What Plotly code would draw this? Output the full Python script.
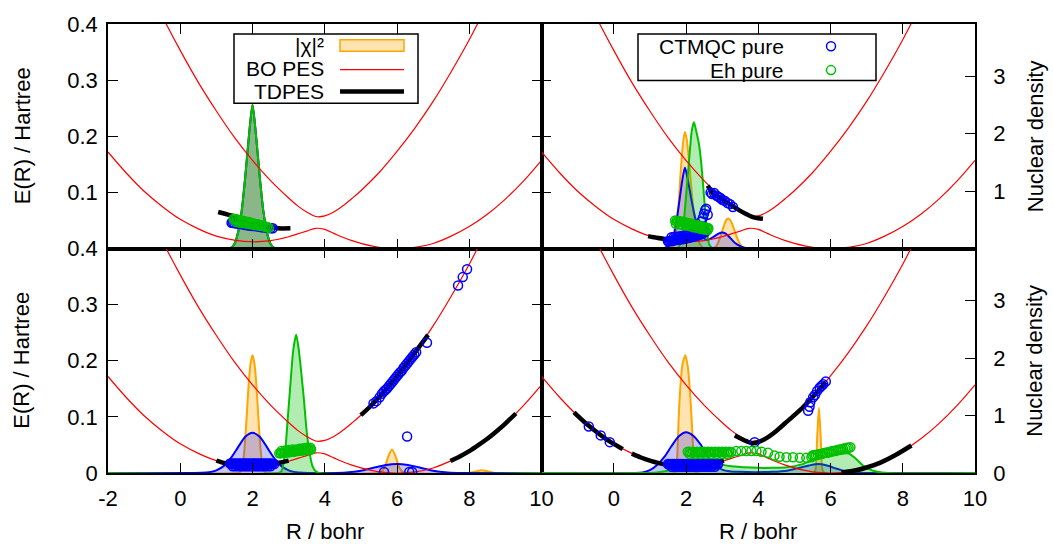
import plotly.graph_objects as go

# ---------------- data ----------------
# Born-Oppenheimer potential energy surfaces (Hartree) vs R (bohr)
R_pes = [-2, -1.5, -1, -0.5, 0, 0.5, 1, 1.5, 2, 2.5, 3, 3.25, 3.5, 3.75, 4, 4.25,
         4.5, 4.75, 5, 5.5, 6, 6.5, 7, 7.5, 8, 8.5, 9, 9.5, 10]
E_bo_lower = [0.172, 0.135, 0.102, 0.075, 0.052, 0.035, 0.022, 0.015, 0.012, 0.014,
              0.021, 0.026, 0.031, 0.036, 0.034, 0.027, 0.020, 0.014, 0.009, 0.002,
              0.0, 0.002, 0.009, 0.022, 0.039, 0.061, 0.088, 0.120, 0.157]
E_bo_upper = [0.627, 0.551, 0.480, 0.414, 0.353, 0.296, 0.245, 0.198, 0.157, 0.121,
              0.090, 0.076, 0.065, 0.057, 0.058, 0.065, 0.076, 0.089, 0.103, 0.135,
              0.173, 0.215, 0.262, 0.315, 0.372, 0.435, 0.502, 0.575, 0.652]

# ---- panel top-left ----
chi_TL_R = [-2, 1.3, 1.4, 1.5, 1.6, 1.7, 1.8, 1.9, 2.0, 2.1, 2.2, 2.3, 2.4, 2.5, 2.6, 2.7, 10]
chi_TL = [0, 0, 0.01, 0.08, 0.28, 0.65, 1.25, 1.95, 2.52, 1.95, 1.25, 0.65, 0.28, 0.08, 0.01, 0, 0]
ct_TL_R = chi_TL_R
ct_TL = [0, 0, 0.01, 0.08, 0.28, 0.65, 1.25, 1.95, 2.5, 1.95, 1.25, 0.65, 0.28, 0.08, 0.01, 0, 0]
eh_TL_R = chi_TL_R
eh_TL = [0, 0, 0.01, 0.08, 0.28, 0.65, 1.25, 1.95, 2.5, 1.95, 1.25, 0.65, 0.28, 0.08, 0.01, 0, 0]
td_TL_R = [1.05, 1.5, 2.0, 2.5, 2.7, 3.05]
td_TL_E = [0.065, 0.057, 0.047, 0.039, 0.036, 0.036]
ctp_TL_R = [1.42, 1.46, 1.5, 1.55, 1.6, 1.65, 1.7, 1.75, 1.8, 1.85, 1.9, 1.95, 2.0, 2.05,
            2.1, 2.15, 2.2, 2.25, 2.3, 2.35, 2.4, 2.45, 2.5, 2.56]
ctp_TL_E = [0.046, 0.046, 0.045, 0.045, 0.044, 0.044, 0.043, 0.043, 0.042, 0.042, 0.041,
            0.041, 0.040, 0.040, 0.040, 0.039, 0.039, 0.038, 0.038, 0.038, 0.037, 0.037,
            0.036, 0.036]
ehp_TL_R = [1.48, 1.52, 1.56, 1.6, 1.65, 1.7, 1.75, 1.8, 1.85, 1.9, 1.95, 2.0, 2.05, 2.1,
            2.15, 2.2, 2.25, 2.3, 2.35, 2.4, 2.45,
            1.55, 1.65, 1.75, 1.85, 1.95, 2.05, 2.15, 2.25, 2.35]
ehp_TL_E = [0.053, 0.052, 0.052, 0.051, 0.050, 0.050, 0.049, 0.048, 0.047, 0.047, 0.046,
            0.045, 0.044, 0.043, 0.043, 0.042, 0.041, 0.040, 0.039, 0.038, 0.037,
            0.047, 0.046, 0.045, 0.044, 0.043, 0.042, 0.041, 0.040, 0.039]

# ---- panel top-right ----
chi_TR_R = [-2, 1.55, 1.65, 1.75, 1.85, 1.92, 1.97, 2.02, 2.1, 2.2, 2.3, 2.4, 2.5, 2.75,
            2.85, 2.95, 3.05, 3.12, 3.18, 3.25, 3.35, 3.45, 3.55, 3.65, 10]
chi_TR = [0, 0, 0.05, 0.4, 1.3, 1.85, 2.03, 1.9, 1.4, 0.7, 0.25, 0.06, 0.0, 0.0, 0.05, 0.2,
          0.4, 0.5, 0.52, 0.47, 0.3, 0.13, 0.03, 0, 0]
ct_TR_R = [-2, 1.3, 1.4, 1.5, 1.6, 1.7, 1.8, 1.9, 1.97, 2.05, 2.15, 2.25, 2.35, 2.45, 2.6,
           2.75, 2.9, 3.0, 3.1, 3.2, 3.35, 3.5, 3.65, 3.8, 10]
ct_TR = [0, 0, 0.01, 0.04, 0.12, 0.35, 0.75, 1.2, 1.41, 1.2, 0.85, 0.55, 0.32, 0.2, 0.15,
         0.2, 0.26, 0.28, 0.26, 0.2, 0.1, 0.04, 0.01, 0, 0]
eh_TR_R = [-2, 1.7, 1.8, 1.9, 2.0, 2.1, 2.16, 2.22, 2.28, 2.35, 2.42, 2.5, 2.58, 2.65, 2.75, 10]
eh_TR = [0, 0, 0.03, 0.25, 0.9, 1.65, 2.05, 2.2, 2.05, 1.85, 1.5, 0.9, 0.3, 0.06, 0, 0]
td_TR_R = [0.95, 1.2, 1.4, 1.6, 1.8, 2.0, 2.2, 2.4, 2.55, None,
           2.6, 2.75, 2.95, 3.12, 3.3, 3.48, 3.65, 3.85, 4.0, 4.13]
td_TR_E = [0.022, 0.019, 0.017, 0.015, 0.014, 0.015, 0.017, 0.021, 0.026, None,
           0.112, 0.098, 0.090, 0.083, 0.075, 0.068, 0.062, 0.056, 0.054, 0.053]
ctp_TR_R = [1.5, 1.53, 1.56, 1.59, 1.62, 1.65, 1.68, 1.71, 1.74, 1.77, 1.8, 1.83, 1.86,
            1.89, 1.92, 1.95, 1.98, 2.01, 2.04, 2.07, 2.1, 2.13, 2.16, 2.19, 2.22, 2.25,
            2.28, 2.31, 2.34, 2.37, 2.4, 2.43, 2.46, 2.49, 2.52, 2.55,
            1.6, 1.66, 1.72, 1.78, 1.84, 1.9, 1.96, 2.02, 2.08, 2.14, 2.2, 2.26, 2.32,
            2.38, 2.44, 2.5,
            2.42, 2.47, 2.5, 2.53, 2.56, 2.6,
            2.68, 2.72, 2.78, 2.85, 2.9, 2.95, 3.0, 3.07, 3.15, 3.22, 3.3]
ctp_TR_E = [0.013, 0.013, 0.013, 0.014, 0.014, 0.014, 0.015, 0.015, 0.015, 0.016, 0.016,
            0.016, 0.017, 0.017, 0.017, 0.018, 0.018, 0.018, 0.019, 0.019, 0.020, 0.020,
            0.021, 0.021, 0.022, 0.022, 0.023, 0.023, 0.024, 0.025, 0.025, 0.026, 0.027,
            0.028, 0.029, 0.030,
            0.020, 0.020, 0.021, 0.021, 0.022, 0.022, 0.023, 0.023, 0.024, 0.025, 0.026,
            0.027, 0.028, 0.029, 0.031, 0.033,
            0.048, 0.055, 0.062, 0.068, 0.071, 0.060,
            0.100, 0.097, 0.099, 0.094, 0.092, 0.090, 0.087, 0.085, 0.081, 0.079, 0.074]
ehp_TR_R = [1.7, 1.74, 1.78, 1.82, 1.86, 1.9, 1.94, 1.98, 2.02, 2.06, 2.1, 2.14, 2.18, 2.22,
            2.26, 2.3, 2.34, 2.38, 2.42, 2.46, 2.5, 2.54, 2.58, 2.62,
            1.72, 1.8, 1.9, 2.0, 2.1, 2.2, 2.3, 2.4, 2.5, 2.6]
ehp_TR_E = [0.050, 0.049, 0.049, 0.048, 0.048, 0.047, 0.047, 0.046, 0.046, 0.045, 0.044,
            0.044, 0.043, 0.042, 0.042, 0.041, 0.040, 0.040, 0.039, 0.038, 0.038, 0.037,
            0.037, 0.036,
            0.044, 0.043, 0.042, 0.041, 0.040, 0.038, 0.037, 0.035, 0.034, 0.033]

# ---- panel bottom-left ----
chi_BL_R = [-2, 1.6, 1.65, 1.7, 1.75, 1.8, 1.85, 1.9, 1.95, 2.0, 2.05, 2.1, 2.15, 2.2, 2.25,
            2.3, 2.35, 2.4, 5.46, 5.56, 5.66, 5.76, 5.86, 5.96, 6.06, 6.16, 6.26,
            8.0, 8.2, 8.35, 8.5, 8.7, 10]
chi_BL = [0, 0, 0.01, 0.07, 0.25, 0.6, 1.1, 1.6, 1.92, 2.05, 1.92, 1.6, 1.1, 0.6, 0.25,
          0.07, 0.01, 0, 0, 0.02, 0.1, 0.29, 0.41, 0.29, 0.1, 0.02, 0,
          0, 0.03, 0.05, 0.03, 0, 0]
ct_BL_R = [-2, 0.4, 0.6, 0.8, 1.0, 1.2, 1.4, 1.6, 1.8, 2.0, 2.2, 2.4, 2.6, 2.8, 3.0, 3.2,
           3.4, 3.6, 4.2, 4.6, 5.0, 5.4, 5.7, 6.0, 6.3, 6.6, 7.0, 7.4, 7.8, 10]
ct_BL = [0, 0, 0.003, 0.014, 0.047, 0.12, 0.26, 0.45, 0.63, 0.7, 0.63, 0.45, 0.26, 0.12,
         0.047, 0.014, 0.003, 0, 0, 0.01, 0.04, 0.1, 0.14, 0.155, 0.14, 0.1, 0.04, 0.01, 0, 0]
eh_BL_R = [-2, 2.7, 2.8, 2.9, 2.97, 3.05, 3.13, 3.21, 3.28, 3.35, 3.42, 3.5, 3.58, 3.66,
           3.75, 3.85, 10]
eh_BL = [0, 0, 0.03, 0.35, 0.9, 1.55, 2.15, 2.41, 2.15, 1.75, 1.3, 0.72, 0.35, 0.12, 0.03, 0, 0]
td_BL_R = [1.0, 1.2, 1.4, 1.6, 1.8, 2.0, 2.2, 2.4, 2.6, 2.8, 3.0, None,
           5.0, 5.25, 5.5, 5.75, 6.0, 6.25, 6.5, 6.86, None,
           7.48, 7.75, 8.0, 8.25, 8.5, 8.75, 9.0, 9.29]
td_BL_E = [0.022, 0.018, 0.016, 0.014, 0.0125, 0.012, 0.0125, 0.0135, 0.016, 0.019, 0.022, None,
           0.103, 0.118, 0.135, 0.153, 0.172, 0.193, 0.215, 0.246, None,
           0.0215, 0.030, 0.039, 0.0496, 0.061, 0.074, 0.088, 0.106]
ctp_BL_R = [1.38, 1.41, 1.44, 1.47, 1.5, 1.53, 1.56, 1.59, 1.62, 1.65, 1.68, 1.71, 1.74,
            1.77, 1.8, 1.83, 1.86, 1.89, 1.92, 1.95, 1.98, 2.01, 2.04, 2.07, 2.1, 2.13,
            2.16, 2.19, 2.22, 2.25, 2.28, 2.31, 2.34, 2.37, 2.4, 2.43, 2.46, 2.49, 2.52,
            2.55, 2.6,
            1.45, 1.52, 1.59, 1.66, 1.73, 1.8, 1.87, 1.94, 2.01, 2.08, 2.15, 2.22, 2.29,
            2.36, 2.43, 2.5,
            5.35, 5.43, 5.52, 5.58, 5.63, 5.68, 5.73, 5.78, 5.83, 5.88, 5.93, 5.98, 6.03,
            6.08, 6.13, 6.18, 6.23, 6.28, 6.33, 6.38, 6.43, 6.48, 6.53,
            6.83, 7.69, 7.82, 7.94, 6.28, 5.64, 6.34, 6.42]
ctp_BL_E = [0.017, 0.016, 0.017, 0.016, 0.017, 0.016, 0.017, 0.016, 0.017, 0.016, 0.017,
            0.016, 0.017, 0.016, 0.017, 0.016, 0.017, 0.016, 0.017, 0.016, 0.017, 0.016,
            0.017, 0.016, 0.017, 0.016, 0.017, 0.016, 0.017, 0.016, 0.017, 0.016, 0.017,
            0.016, 0.017, 0.016, 0.017, 0.016, 0.017, 0.016, 0.016,
            0.012, 0.012, 0.012, 0.012, 0.012, 0.012, 0.012, 0.012, 0.012, 0.012, 0.012,
            0.012, 0.012, 0.012, 0.012, 0.012,
            0.124, 0.128, 0.135, 0.141, 0.145, 0.148, 0.151, 0.155, 0.159, 0.163, 0.167,
            0.171, 0.175, 0.179, 0.182, 0.187, 0.191, 0.195, 0.199, 0.203, 0.207, 0.211, 0.215,
            0.232, 0.334, 0.349, 0.363, 0.065, 0.002, 0.002, 0.002]
ehp_BL_R = [2.74, 2.78, 2.82, 2.86, 2.9, 2.94, 2.98, 3.02, 3.06, 3.1, 3.14, 3.18, 3.22,
            3.26, 3.3, 3.34, 3.38, 3.42, 3.46, 3.5, 3.54, 3.58, 3.62,
            2.8, 2.9, 3.0, 3.1, 3.2, 3.3, 3.4, 3.5, 3.6]
ehp_BL_E = [0.035, 0.035, 0.036, 0.036, 0.036, 0.037, 0.037, 0.037, 0.038, 0.038, 0.038,
            0.039, 0.039, 0.039, 0.040, 0.040, 0.040, 0.041, 0.041, 0.041, 0.042, 0.042, 0.042,
            0.039, 0.040, 0.041, 0.042, 0.042, 0.043, 0.044, 0.045, 0.045]

# ---- panel bottom-right ----
chi_BR_R = [-2, 1.68, 1.73, 1.77, 1.8, 1.85, 1.9, 1.98, 2.05, 2.1, 2.15, 2.2, 2.24, 2.29,
            5.52, 5.58, 5.63, 5.68, 5.73, 5.78, 5.84, 10]
chi_BR = [0, 0, 0.05, 0.5, 1.0, 1.55, 1.88, 2.05, 1.85, 1.5, 1.0, 0.4, 0.05, 0,
          0, 0.05, 0.6, 1.13, 0.6, 0.05, 0, 0]
ct_BR_R = [-2, 0.6, 0.8, 1.0, 1.2, 1.4, 1.6, 1.8, 2.0, 2.2, 2.4, 2.6, 2.8, 3.0, 3.2, 3.5,
           3.9, 4.4, 4.8, 5.0, 5.2, 5.4, 5.65, 5.9, 6.1, 6.3, 6.5, 6.8, 7.2, 10]
ct_BR = [0, 0, 0.01, 0.05, 0.14, 0.28, 0.47, 0.64, 0.71, 0.65, 0.5, 0.29, 0.14, 0.06, 0.03,
         0.02, 0.015, 0.02, 0.04, 0.07, 0.1, 0.13, 0.155, 0.13, 0.09, 0.05, 0.02, 0.005, 0, 0]
eh_BR_R = [-2, 0.8, 1.2, 1.6, 2.0, 2.3, 2.5, 2.8, 3.2, 3.6, 4.0, 4.4, 4.8, 5.2, 5.5, 5.8,
           6.1, 6.5, 6.7, 6.9, 7.1, 7.3, 7.6, 10]
eh_BR = [0, 0, 0.01, 0.06, 0.17, 0.25, 0.24, 0.18, 0.12, 0.1, 0.09, 0.09, 0.1, 0.15, 0.22,
         0.27, 0.31, 0.34, 0.25, 0.13, 0.06, 0.02, 0, 0]
td_BR_R = [-1.1, -0.8, -0.5, -0.2, 0.0, 0.25, None,
           0.5, 0.75, 1.0, 1.25, 1.5, 1.75, 2.0, 2.25, 2.5, 2.75, 3.05, None,
           3.35, 3.5, 3.7, 3.85, 4.0, 4.25, 4.5, 4.75, 5.0, 5.25, 5.5, 5.75, 5.87, None,
           6.3, 6.6, 7.0, 7.4, 7.8, 8.24]
td_BR_E = [0.108, 0.090, 0.0745, 0.060, 0.052, 0.0425, None,
           0.0345, 0.0276, 0.022, 0.0176, 0.0145, 0.0126, 0.012, 0.0126, 0.014, 0.017, 0.022, None,
           0.067, 0.062, 0.056, 0.053, 0.055, 0.063, 0.075, 0.089, 0.103, 0.118, 0.135, 0.153,
           0.162, None,
           0.001, 0.0035, 0.0098, 0.019, 0.032, 0.049]
ctp_BR_R = [-0.69, -0.36, -0.11,
            1.5, 1.53, 1.56, 1.59, 1.62, 1.65, 1.68, 1.71, 1.74, 1.77, 1.8, 1.83, 1.86,
            1.89, 1.92, 1.95, 1.98, 2.01, 2.04, 2.07, 2.1, 2.13, 2.16, 2.19, 2.22, 2.25,
            2.28, 2.31, 2.34, 2.37, 2.4, 2.43, 2.46, 2.49, 2.52, 2.55, 2.58, 2.61, 2.64,
            2.67, 2.7, 2.73, 2.76, 2.79, 2.82, 2.85, 2.89,
            1.6, 1.7, 1.8, 1.9, 2.0, 2.1, 2.2, 2.3, 2.4, 2.5, 2.6, 2.7, 2.8,
            3.9,
            5.38, 5.42, 5.44, 5.52, 5.57, 5.63, 5.7, 5.75, 5.8, 5.87]
ctp_BR_E = [0.083, 0.067, 0.055,
            0.016, 0.015, 0.016, 0.015, 0.016, 0.015, 0.016, 0.015, 0.016, 0.015, 0.016,
            0.015, 0.016, 0.015, 0.016, 0.015, 0.016, 0.015, 0.016, 0.015, 0.016, 0.015,
            0.016, 0.015, 0.016, 0.015, 0.016, 0.015, 0.016, 0.015, 0.016, 0.015, 0.016,
            0.015, 0.016, 0.015, 0.016, 0.015, 0.016, 0.015, 0.016, 0.015, 0.016, 0.015,
            0.016, 0.015, 0.016,
            0.011, 0.011, 0.011, 0.011, 0.011, 0.011, 0.011, 0.011, 0.011, 0.011, 0.011,
            0.011, 0.011,
            0.055,
            0.111, 0.118, 0.126, 0.135, 0.139, 0.146, 0.152, 0.155, 0.158, 0.163]
ehp_BR_R = [2.05, 2.1, 2.15, 2.2, 2.25, 2.3, 2.35, 2.4, 2.45, 2.5, 2.55, 2.6, 2.65, 2.7,
            2.75, 2.8, 2.85, 2.9, 2.95, 3.0, 3.05, 3.1, 3.15, 3.2, 3.25,
            2.1, 2.25, 2.4, 2.55, 2.7, 2.85, 3.0, 3.15,
            3.39, 3.53, 3.67, 3.81, 3.95, 4.09, 4.27,
            4.45, 4.59, 4.78, 4.96, 5.15, 5.33, 5.47,
            5.5, 5.55, 5.6, 5.65, 5.7, 5.75, 5.8, 5.85, 5.9, 5.95, 6.0, 6.05, 6.1, 6.15,
            6.2, 6.25, 6.3, 6.35, 6.4, 6.45, 6.5, 6.55]
ehp_BR_E = [0.038, 0.038, 0.037, 0.038, 0.037, 0.038, 0.037, 0.038, 0.037, 0.038, 0.037,
            0.038, 0.037, 0.038, 0.037, 0.038, 0.037, 0.038, 0.037, 0.038, 0.037, 0.038,
            0.037, 0.038, 0.037,
            0.034, 0.034, 0.034, 0.034, 0.034, 0.034, 0.034, 0.034,
            0.039, 0.039, 0.039, 0.039, 0.039, 0.038, 0.036,
            0.031, 0.029, 0.028, 0.028, 0.027, 0.027, 0.028,
            0.031, 0.032, 0.032, 0.033, 0.034, 0.034, 0.035, 0.036, 0.036, 0.037, 0.038,
            0.039, 0.039, 0.040, 0.041, 0.042, 0.042, 0.043, 0.044, 0.045, 0.045, 0.046]

x_ticks_left = [-2, 0, 2, 4, 6, 8, 10]
x_ticks_right = [0, 2, 4, 6, 8, 10]
e_ticks_top = [0.1, 0.2, 0.3, 0.4]
e_ticktext_top = ["0.1", "0.2", "0.3", "0.4"]
e_ticks_bottom = [0, 0.1, 0.2, 0.3, 0.4]
e_ticktext_bottom = ["0", "0.1", "0.2", "0.3", "0.4"]
d_ticks_top = [1, 2, 3]
d_ticks_bottom = [0, 1, 2, 3]

# ---------------- styling ----------------
FONT = dict(family="Liberation Sans, Arial, Helvetica, sans-serif", size=22, color="black")
KEYFONT = dict(family="Liberation Sans, Arial, Helvetica, sans-serif", size=21, color="black")
ORANGE = "#FFA500"
BLUE = "#0000FF"
GREEN = "#00C000"
RED = "#FF0000"
FILL_O = "rgba(255,165,0,0.30)"
FILL_B = "rgba(0,0,255,0.22)"
FILL_G = "rgba(0,192,0,0.30)"

W, H = 1053, 544
ML, MR, MT, MB = 108, 78, 20, 71
PW = W - ML - MR
PH = H - MT - MB

fig = go.Figure()

panels = [
    dict(xa="x", yd="y", ye="y2",
         chi=(chi_TL_R, chi_TL), ct=(ct_TL_R, ct_TL), eh=(eh_TL_R, eh_TL),
         td=(td_TL_R, td_TL_E), ctp=(ctp_TL_R, ctp_TL_E), ehp=(ehp_TL_R, ehp_TL_E)),
    dict(xa="x2", yd="y3", ye="y4",
         chi=(chi_TR_R, chi_TR), ct=(ct_TR_R, ct_TR), eh=(eh_TR_R, eh_TR),
         td=(td_TR_R, td_TR_E), ctp=(ctp_TR_R, ctp_TR_E), ehp=(ehp_TR_R, ehp_TR_E)),
    dict(xa="x3", yd="y5", ye="y6",
         chi=(chi_BL_R, chi_BL), ct=(ct_BL_R, ct_BL), eh=(eh_BL_R, eh_BL),
         td=(td_BL_R, td_BL_E), ctp=(ctp_BL_R, ctp_BL_E), ehp=(ehp_BL_R, ehp_BL_E)),
    dict(xa="x4", yd="y7", ye="y8",
         chi=(chi_BR_R, chi_BR), ct=(ct_BR_R, ct_BR), eh=(eh_BR_R, eh_BR),
         td=(td_BR_R, td_BR_E), ctp=(ctp_BR_R, ctp_BR_E), ehp=(ehp_BR_R, ehp_BR_E)),
]

for p in panels:
    # densities (base axis, drawn below)
    for key, col, fc in (("chi", ORANGE, FILL_O), ("ct", BLUE, FILL_B), ("eh", GREEN, FILL_G)):
        r, d = p[key]
        fig.add_trace(go.Scatter(x=r, y=d, xaxis=p["xa"], yaxis=p["yd"], mode="lines",
                                 line=dict(color=col, width=2, shape="spline", smoothing=0.7),
                                 fill="tozeroy", fillcolor=fc, showlegend=False,
                                 hoverinfo="skip"))
    # BO PES
    for e in (E_bo_lower, E_bo_upper):
        fig.add_trace(go.Scatter(x=R_pes, y=e, xaxis=p["xa"], yaxis=p["ye"], mode="lines",
                                 line=dict(color=RED, width=1.2, shape="spline", smoothing=1.0),
                                 showlegend=False, hoverinfo="skip"))
    # TDPES
    r, e = p["td"]
    fig.add_trace(go.Scatter(x=r, y=e, xaxis=p["xa"], yaxis=p["ye"], mode="lines",
                             line=dict(color="black", width=4.5, shape="spline", smoothing=0.6),
                             connectgaps=False, showlegend=False, hoverinfo="skip"))
    # trajectory points
    for key, col in (("ctp", BLUE), ("ehp", GREEN)):
        r, e = p[key]
        fig.add_trace(go.Scatter(x=r, y=e, xaxis=p["xa"], yaxis=p["ye"], mode="markers",
                                 marker=dict(symbol="circle-open", size=9, color=col,
                                             line=dict(width=1.5, color=col)),
                                 showlegend=False, hoverinfo="skip"))

axis_common = dict(showline=True, linecolor="black", linewidth=1.5, ticks="inside",
                   ticklen=10, tickwidth=1.2, tickcolor="black", showgrid=False,
                   zeroline=False, tickfont=FONT)

def xaxis(domain, anchor, labels, tickvals):
    d = dict(axis_common)
    d.update(domain=domain, anchor=anchor, range=[-2, 10], mirror="ticks",
             tickmode="array", tickvals=tickvals, ticktext=[str(v) for v in tickvals],
             showticklabels=labels, ticklabelstandoff=5)
    return d

def e_axis(overlay, anchor, labels, tv, tt, mirror):
    d = dict(axis_common)
    d.update(overlaying=overlay, anchor=anchor, side="left", range=[0, 0.4],
             tickmode="array", tickvals=tv, ticktext=tt, showticklabels=labels,
             mirror=mirror, ticklabelstandoff=4)
    return d

def d_axis(domain, anchor, shown, tv):
    d = dict(axis_common)
    d.update(domain=domain, anchor=anchor, side="right", range=[0, 3.91],
             tickmode="array", tickvals=tv, ticklabelstandoff=12)
    if not shown:
        d.update(showline=False, ticks="", showticklabels=False)
    return d

fig.update_layout(
    width=W, height=H,
    margin=dict(l=ML, r=MR, t=MT, b=MB, pad=0),
    paper_bgcolor="white", plot_bgcolor="white",
    font=FONT, showlegend=False,
    xaxis=xaxis([0, 0.5], "y", False, x_ticks_left),
    xaxis2=xaxis([0.5, 1], "y3", False, x_ticks_right),
    xaxis3=xaxis([0, 0.5], "y5", True, x_ticks_left),
    xaxis4=xaxis([0.5, 1], "y7", True, x_ticks_right),
    yaxis=d_axis([0.5, 1], "x", False, d_ticks_top),
    yaxis2=e_axis("y", "x", True, e_ticks_top, e_ticktext_top, "ticks"),
    yaxis3=d_axis([0.5, 1], "x2", True, d_ticks_top),
    yaxis4=e_axis("y3", "x2", False, e_ticks_top, e_ticktext_top, False),
    yaxis5=d_axis([0, 0.5], "x3", False, d_ticks_bottom),
    yaxis6=e_axis("y5", "x3", True, e_ticks_bottom, e_ticktext_bottom, "ticks"),
    yaxis7=d_axis([0, 0.5], "x4", True, d_ticks_bottom),
    yaxis8=e_axis("y7", "x4", False, e_ticks_bottom, e_ticktext_bottom, False),
)

def px(xp):
    return (xp - ML) / PW

def py(yp):
    return (H - MB - yp) / PH

annotations = []
for yc in (0.75, 0.25):
    annotations.append(dict(text="E(R) / Hartree", x=px(22), y=yc, xref="paper", yref="paper",
                            textangle=-90, showarrow=False, font=FONT,
                            xanchor="center", yanchor="middle"))
    annotations.append(dict(text="Nuclear density", x=px(1035), y=yc, xref="paper",
                            yref="paper", textangle=-90, showarrow=False, font=FONT,
                            xanchor="center", yanchor="middle"))
for xc in (0.25, 0.75):
    annotations.append(dict(text="R / bohr", x=xc, y=py(532), xref="paper", yref="paper",
                            showarrow=False, font=FONT, xanchor="center", yanchor="middle"))

# key boxes (gnuplot style: text right-aligned, sample on the right)
shapes = []
shapes.append(dict(type="rect", xref="paper", yref="paper", x0=px(234), x1=px(418),
                   y0=py(100), y1=py(30), line=dict(color="black", width=1.5),
                   fillcolor="white", layer="above"))
shapes.append(dict(type="rect", xref="paper", yref="paper", x0=px(638), x1=px(876),
                   y0=py(77), y1=py(30), line=dict(color="black", width=1.5),
                   fillcolor="white", layer="above"))
key_left = [("|χ|²", 42), ("BO PES", 65), ("TDPES", 88)]
for txt, yy in key_left:
    annotations.append(dict(text=txt, x=px(326), y=py(yy), xref="paper", yref="paper",
                            showarrow=False, font=KEYFONT, xanchor="right", yanchor="middle"))
shapes.append(dict(type="rect", xref="paper", yref="paper", x0=px(340), x1=px(404),
                   y0=py(47.5), y1=py(36), line=dict(color=ORANGE, width=1.5),
                   fillcolor="rgba(255,165,0,0.30)", layer="above"))
shapes.append(dict(type="line", xref="paper", yref="paper", x0=px(340), x1=px(404),
                   y0=py(66), y1=py(66), line=dict(color=RED, width=1.2), layer="above"))
shapes.append(dict(type="line", xref="paper", yref="paper", x0=px(340), x1=px(404),
                   y0=py(88), y1=py(88), line=dict(color="black", width=4.5), layer="above"))
key_right = [("CTMQC pure", 42.5, BLUE), ("Eh pure", 66.5, GREEN)]
for txt, yy, col in key_right:
    annotations.append(dict(text=txt, x=px(786), y=py(yy), xref="paper", yref="paper",
                            showarrow=False, font=KEYFONT, xanchor="right", yanchor="middle"))
    shapes.append(dict(type="circle", xref="paper", yref="paper", xsizemode="pixel",
                       ysizemode="pixel", xanchor=px(831), yanchor=py(yy),
                       x0=-4.5, x1=4.5, y0=-4.5, y1=4.5,
                       line=dict(color=col, width=1.5), layer="above"))

fig.update_layout(annotations=annotations, shapes=shapes)

fig.write_html("out.html")
